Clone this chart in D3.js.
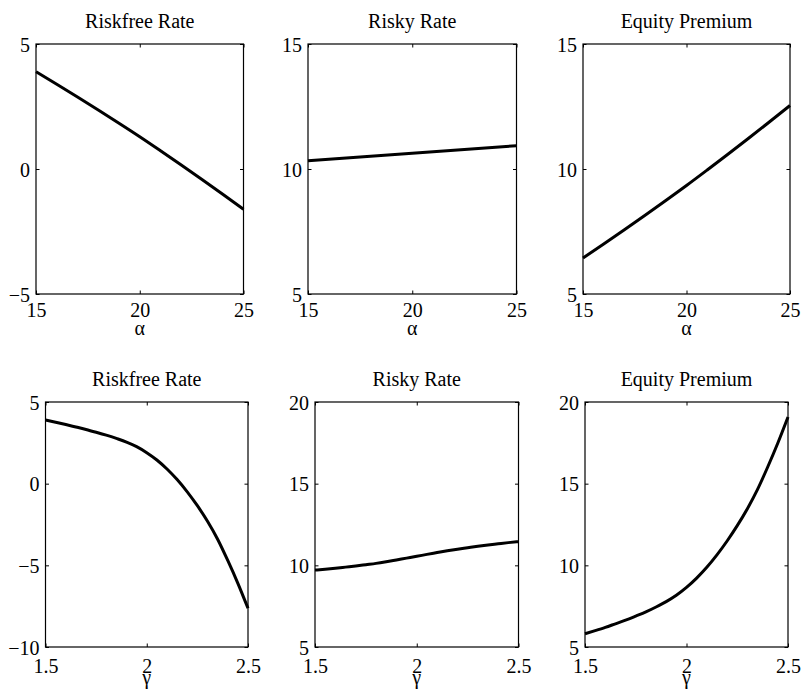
<!DOCTYPE html>
<html><head><meta charset="utf-8">
<script src="https://cdn.jsdelivr.net/npm/d3@7"></script>
<style>body{margin:0;background:#fff}svg{display:block}</style>
</head><body>
<svg id="c" width="801" height="696"></svg>
<script>
// ---- data ----
const alphaX = [15,16,17,18,19,20,21,22,23,24,25];
const riskfreeAlpha = [3.89,3.39,2.88,2.36,1.83,1.29,0.73,0.16,-0.42,-1.01,-1.61];
const riskyAlpha = [10.33,10.39,10.45,10.51,10.57,10.63,10.69,10.75,10.81,10.87,10.93];
const premiumAlpha = [6.44,7.00,7.57,8.15,8.74,9.34,9.96,10.59,11.23,11.88,12.54];

const gammaX = [1.5,1.55,1.6,1.65,1.7,1.75,1.8,1.85,1.9,1.95,2.0,2.05,2.1,2.15,2.2,2.25,2.3,2.35,2.4,2.45,2.5];
const riskfreeGamma = [3.90,3.76,3.62,3.47,3.32,3.15,2.97,2.77,2.55,2.27,1.90,1.45,0.90,0.25,-0.50,-1.35,-2.30,-3.40,-4.70,-6.10,-7.63];
const riskyGamma = [9.71,9.76,9.82,9.89,9.96,10.04,10.12,10.22,10.33,10.44,10.55,10.67,10.78,10.89,10.99,11.08,11.17,11.25,11.32,11.39,11.45];
const premiumGamma = [5.81,6.00,6.20,6.42,6.64,6.89,7.15,7.45,7.78,8.17,8.65,9.22,9.88,10.64,11.49,12.43,13.47,14.65,16.02,17.49,19.08];

const titles = ["Riskfree Rate","Risky Rate","Equity Premium"];
const alphaTicks = [15,20,25];
const gammaTicks = [1.5,2,2.5];
const yTicksTop = [[-5,0,5],[5,10,15],[5,10,15]];
const yTicksBottom = [[-10,-5,0,5],[5,10,15,20],[5,10,15,20]];

const panels = [
  {x:alphaX, y:riskfreeAlpha, xd:[15,25], yd:[-5,5], xt:alphaTicks, yt:yTicksTop[0], title:titles[0], xl:"α", box:[36,44,243.5,294], pad:5, lab:41},
  {x:alphaX, y:riskyAlpha, xd:[15,25], yd:[5,15], xt:alphaTicks, yt:yTicksTop[1], title:titles[1], xl:"α", box:[308,44,516.5,294], pad:5, lab:41},
  {x:alphaX, y:premiumAlpha, xd:[15,25], yd:[5,15], xt:alphaTicks, yt:yTicksTop[2], title:titles[2], xl:"α", box:[583,44,790,294], pad:5, lab:41},
  {x:gammaX, y:riskfreeGamma, xd:[1.5,2.5], yd:[-10,5], xt:gammaTicks, yt:yTicksBottom[0], title:titles[0], xl:"γ", box:[45.5,402,248,647], pad:8, lab:37},
  {x:gammaX, y:riskyGamma, xd:[1.5,2.5], yd:[5,20], xt:gammaTicks, yt:yTicksBottom[1], title:titles[1], xl:"γ", box:[315,402,518.5,647], pad:8, lab:37},
  {x:gammaX, y:premiumGamma, xd:[1.5,2.5], yd:[5,20], xt:gammaTicks, yt:yTicksBottom[2], title:titles[2], xl:"γ", box:[585,402,788,647], pad:8, lab:37}
];

const svg = d3.select("#c");
const FONT = "'Liberation Serif','Times New Roman',serif";
const FS = 20;
const TL = 3.5;
const fmt = d => (d < 0 ? "\u2212" + Math.abs(d) : String(d));

panels.forEach(p => {
  const [x0,y0,x1,y1] = p.box;
  const xs = d3.scaleLinear().domain(p.xd).range([x0,x1]);
  const ys = d3.scaleLinear().domain(p.yd).range([y1,y0]);
  const g = svg.append("g");

  // bottom x axis with ticks inside
  const xa = g.append("g").attr("transform",`translate(0,${y1})`)
    .call(d3.axisBottom(xs).tickValues(p.xt).tickSizeInner(-TL).tickSizeOuter(0).tickPadding(p.pad).tickFormat(fmt));
  xa.select(".domain").remove();
  xa.selectAll("text").attr("font-family",FONT).attr("font-size",FS).attr("fill","#000").attr("dy","0.9em");
  xa.selectAll("line").attr("stroke","#000");
  // top ticks
  const xt = g.append("g").attr("transform",`translate(0,${y0})`)
    .call(d3.axisTop(xs).tickValues(p.xt).tickSizeInner(-TL).tickSizeOuter(0).tickFormat(""));
  xt.select(".domain").remove();
  xt.selectAll("line").attr("stroke","#000");

  // left y axis
  const ya = g.append("g").attr("transform",`translate(${x0},0)`)
    .call(d3.axisLeft(ys).tickValues(p.yt).tickSizeInner(-TL).tickSizeOuter(0).tickPadding(6).tickFormat(fmt));
  ya.select(".domain").remove();
  ya.selectAll("text").attr("font-family",FONT).attr("font-size",FS).attr("fill","#000").attr("dy","0.35em");
  ya.selectAll("line").attr("stroke","#000");
  const yr = g.append("g").attr("transform",`translate(${x1},0)`)
    .call(d3.axisRight(ys).tickValues(p.yt).tickSizeInner(-TL).tickSizeOuter(0).tickFormat(""));
  yr.select(".domain").remove();
  yr.selectAll("line").attr("stroke","#000");

  // frame
  g.append("rect").attr("x",x0).attr("y",y0).attr("width",x1-x0).attr("height",y1-y0)
    .attr("fill","none").attr("stroke","#000").attr("stroke-width",1.2);

  // line
  const line = d3.line().x((d,i)=>xs(p.x[i])).y(d=>ys(d)).curve(d3.curveMonotoneX);
  g.append("path").attr("d",line(p.y)).attr("fill","none").attr("stroke","#000").attr("stroke-width",3);

  // title
  g.append("text").attr("x",(x0+x1)/2).attr("y",y0-16).attr("text-anchor","middle")
    .attr("font-family",FONT).attr("font-size",FS).text(p.title);
  // x label
  g.append("text").attr("x",(x0+x1)/2).attr("y",y1+p.lab).attr("text-anchor","middle")
    .attr("font-family",FONT).attr("font-size",FS).text(p.xl);
});
</script>
</body></html>
